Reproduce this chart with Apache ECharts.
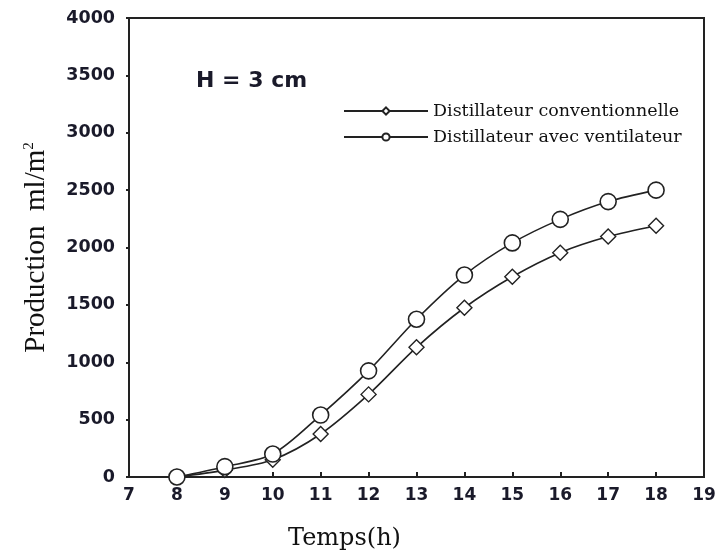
<!DOCTYPE html>
<html>
<head>
<meta charset="utf-8">
<script src="https://cdn.jsdelivr.net/npm/echarts@6/dist/echarts.min.js"></script>
<style>
  html, body { margin: 0; padding: 0; background: #fff; }
  #chart { width: 716px; height: 550px; }
</style>
</head>
<body>
<div id="chart"></div>
<script>
// heures de mesure
var hours = [8, 9, 10, 11, 12, 13, 14, 15, 16, 17, 18];
// production cumulée (ml/m2)
var conventionnel = [0, 60, 150, 375, 720, 1130, 1475, 1745, 1955, 2095, 2190];
var ventilateur = [0, 90, 200, 540, 925, 1375, 1760, 2040, 2245, 2400, 2500];
var seriesNames = ['Distillateur conventionnelle', 'Distillateur avec ventilateur'];

function pairs(xs, ys) {
    var out = [];
    for (var i = 0; i < xs.length; i++) out.push([xs[i], ys[i]]);
    return out;
}

var labelColor = '#1a1a2a';
var chart = echarts.init(document.getElementById('chart'));
chart.setOption({
    animation: false,
    backgroundColor: '#fff',
    grid: {
        left: 129, right: 12, top: 18, height: 459,
        outerBoundsMode: 'none',
        show: true, borderColor: '#222', borderWidth: 2
    },
    legend: {
        left: 338, top: 97,
        orient: 'vertical',
        itemWidth: 84, itemHeight: 9, itemGap: 8,
        textStyle: { fontFamily: 'DejaVu Serif', fontSize: 17.5, color: '#111' },
        data: seriesNames
    },
    graphic: [{
        type: 'text', left: 196, top: 70,
        style: { text: 'H = 3 cm', font: 'bold 22px "DejaVu Sans"', fill: labelColor }
    }],
    xAxis: {
        type: 'value', min: 7, max: 19, interval: 1,
        name: 'Temps(h)', nameLocation: 'middle', nameGap: 50,
        nameTextStyle: { fontFamily: 'DejaVu Serif', fontSize: 24, color: '#111', padding: [0, 144, 0, 0] },
        axisLine: { lineStyle: { color: '#222', width: 2 } },
        axisTick: { inside: true, length: 5, lineStyle: { color: '#222', width: 2 } },
        axisLabel: { margin: 10, fontFamily: 'DejaVu Sans', fontWeight: 'bold', fontSize: 17, color: labelColor },
        splitLine: { show: false }
    },
    yAxis: {
        type: 'value', min: 0, max: 4000, interval: 500,
        name: '{b|Production  ml/m}{s|2}', nameLocation: 'middle', nameGap: 78,
        nameTextStyle: {
            rich: {
                b: { fontFamily: 'Liberation Serif', fontSize: 29, color: '#111' },
                s: { fontFamily: 'Liberation Serif', fontSize: 15, color: '#111', verticalAlign: 'top', padding: [0, 0, 14, 0] }
            }
        },
        axisLine: { lineStyle: { color: '#222', width: 2 } },
        axisTick: { inside: false, length: 3, lineStyle: { color: '#222', width: 2 } },
        axisLabel: {
            margin: 14, fontFamily: 'DejaVu Sans', fontWeight: 'bold', fontSize: 17.5, color: labelColor,
            formatter: function (v) { return String(v); }
        },
        splitLine: { show: false }
    },
    series: [{
        name: seriesNames[0],
        type: 'line',
        smooth: 0.3,
        data: pairs(hours, conventionnel),
        symbol: 'diamond', symbolSize: 15,
        lineStyle: { color: '#222', width: 1.6 },
        itemStyle: { color: '#fff', borderColor: '#222', borderWidth: 1.4 }
    }, {
        name: seriesNames[1],
        type: 'line',
        smooth: 0.3,
        data: pairs(hours, ventilateur),
        symbol: 'circle', symbolSize: 16,
        lineStyle: { color: '#222', width: 1.6 },
        itemStyle: { color: '#fff', borderColor: '#222', borderWidth: 1.6 }
    }]
});
</script>
</body>
</html>
